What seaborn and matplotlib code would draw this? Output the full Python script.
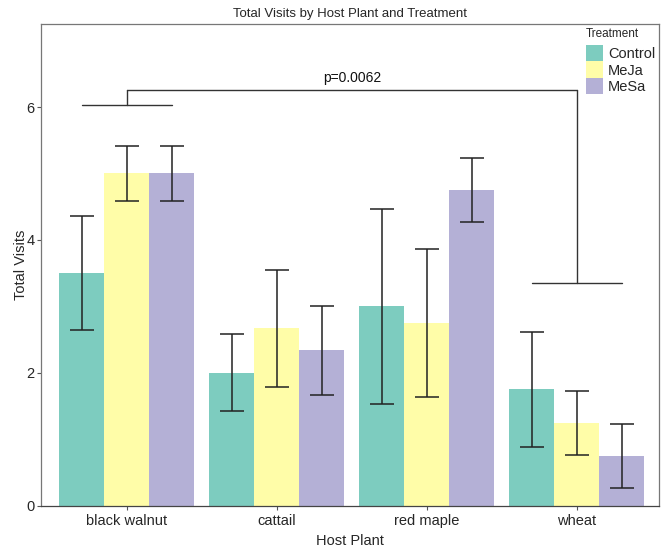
import matplotlib
matplotlib.use('Agg')
import matplotlib.pyplot as plt
import seaborn as sns
import pandas as pd
from matplotlib.patches import Patch

hosts = ['black walnut', 'cattail', 'red maple', 'wheat']
treatments = ['Control', 'MeJa', 'MeSa']
control_mean = [3.50, 2.00, 3.00, 1.75]
meja_mean = [5.00, 2.67, 2.75, 1.25]
mesa_mean = [5.00, 2.34, 4.75, 0.75]
control_err = [0.86, 0.58, 1.47, 0.86]
meja_err = [0.41, 0.88, 1.11, 0.48]
mesa_err = [0.41, 0.67, 0.48, 0.48]
colors = ['#7DCCBF', '#FFFDA8', '#B4B0D6']
p_label = 'p=0.0062'
yticks = [0, 2, 4, 6]

sns.set_style('white')
plt.rcParams['font.family'] = ['Liberation Sans', 'DejaVu Sans']

means = [control_mean, meja_mean, mesa_mean]
errs = [control_err, meja_err, mesa_err]
rows = []
for t, m in zip(treatments, means):
    for h, v in zip(hosts, m):
        rows.append({'Host Plant': h, 'Treatment': t, 'Total Visits': v})
df = pd.DataFrame(rows)

fig = plt.figure(figsize=(6.63, 5.49), dpi=100)
ax = fig.add_axes([41/663, 1 - 505.7/549, (659 - 41)/663, (505.7 - 24)/549])

sns.barplot(data=df, x='Host Plant', y='Total Visits', hue='Treatment',
            order=hosts, hue_order=treatments, palette=colors,
            width=0.9, gap=0, errorbar=None, legend=False,
            edgecolor='none', linewidth=0, saturation=1, ax=ax)

for cont, e in zip(ax.containers, errs):
    xs = [b.get_x() + b.get_width() / 2 for b in cont]
    ys = [b.get_height() for b in cont]
    ax.errorbar(xs, ys, yerr=e, fmt='none', ecolor='#222222',
                elinewidth=1.1, capsize=8.9, capthick=1.1, zorder=5)

# significance bracket
bc = '#333333'
lw = 1.0
ax.plot([-0.3, 0.3], [6.03, 6.03], color=bc, lw=lw)
ax.plot([0, 0], [6.03, 6.26], color=bc, lw=lw)
ax.plot([0, 3], [6.26, 6.26], color=bc, lw=lw)
ax.plot([3, 3], [6.26, 3.35], color=bc, lw=lw)
ax.plot([2.7, 3.3], [3.35, 3.35], color=bc, lw=lw)
ax.text(1.5, 6.33, p_label, ha='center', va='bottom', fontsize=10, color='#111111')

ax.set_xlim(-0.573, 3.547)
ax.set_ylim(0, 7.25)
ax.set_yticks(yticks)
ax.set_yticklabels([str(v) for v in yticks])
ax.tick_params(axis='y', length=3, width=0.8, color='#555555', labelsize=10.5, pad=1.5, left=True)
ax.tick_params(axis='x', length=3, width=0.8, color='#555555', labelsize=10.5, pad=3, bottom=True)

for side in ['left', 'top', 'right']:
    ax.spines[side].set_color('#777777')
    ax.spines[side].set_linewidth(0.9)
ax.spines['bottom'].set_color('#444444')
ax.spines['bottom'].set_linewidth(0.9)

ax.set_xlabel('Host Plant', fontsize=10.5, labelpad=4)
ax.set_ylabel('Total Visits', fontsize=10.5, labelpad=-1)
ax.set_title('Total Visits by Host Plant and Treatment', fontsize=9.5, pad=5)

# legend
fig.text(585.5 / 663, 1 - 34 / 549, 'Treatment', ha='left', va='center', fontsize=8.5)
handles = [Patch(facecolor=c, edgecolor='none') for c in colors]
leg = ax.legend(handles, treatments, loc='upper left',
                bbox_to_anchor=((585.5 - 41) / 618, 1 - 21 / 481.7),
                frameon=False, fontsize=10.5,
                handlelength=1.2, handleheight=1.36, handletextpad=0.35,
                labelspacing=0.0, borderaxespad=0, borderpad=0)

fig.savefig('out.png', dpi=100)
